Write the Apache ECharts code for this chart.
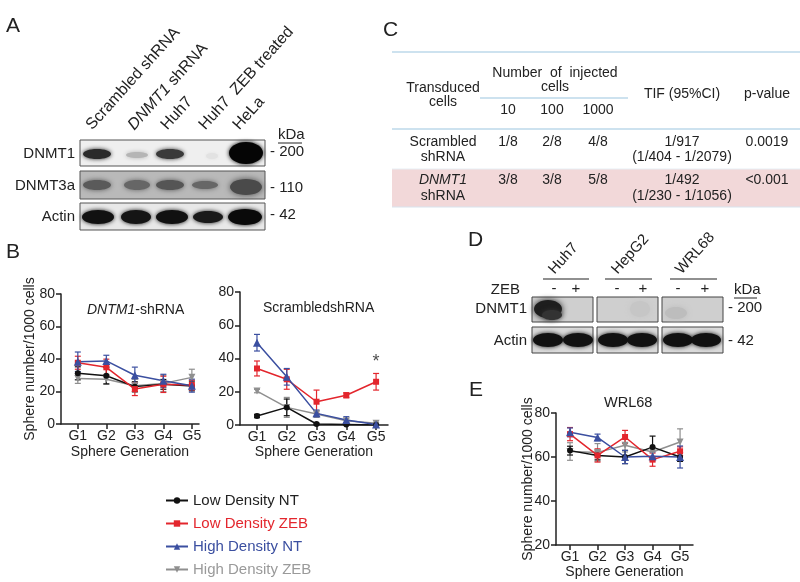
<!DOCTYPE html>
<html><head><meta charset="utf-8">
<script src="https://cdn.jsdelivr.net/npm/echarts@6/dist/echarts.min.js"></script>
<style>html,body{margin:0;padding:0;background:#fff}#c{width:800px;height:582px}</style>
</head><body><div id="c"></div>
<script>
// ---------- DATA ----------
const generations = ['G1','G2','G3','G4','G5'];
const seriesNames = ['Low Density NT','Low Density ZEB','High Density NT','High Density ZEB'];

// Panel B left: DNTM1-shRNA
const bL_lowNT   = [31.2, 29.7, 23.0, 24.4, 23.4];
const bL_lowNT_e = [4, 5, 3, 3, 3];
const bL_lowZEB  = [37.7, 34.9, 21.5, 24.4, 24.0];
const bL_lowZEB_e= [4, 5, 4, 5, 3];
const bL_hiNT    = [38.3, 38.8, 30.0, 26.6, 23.6];
const bL_hiNT_e  = [6, 3.5, 5, 4, 4];
const bL_hiZEB   = [28.0, 27.5, 23.5, 25.0, 28.7];
const bL_hiZEB_e = [3, 3, 4, 5, 5];

// Panel B right: ScrambledshRNA
const bR_lowNT   = [5.4, 10.6, 0.6, 0.3, 0.0];
const bR_lowNT_e = [1, 5, 0.5, 0.3, 0.2];
const bR_lowZEB  = [34.0, 27.5, 14.0, 17.9, 26.0];
const bR_lowZEB_e= [4.5, 6, 7, 1.5, 5];
const bR_hiNT    = [49.5, 29.0, 7.0, 3.0, 0.3];
const bR_hiNT_e  = [5, 5, 2, 2, 0.3];
const bR_hiZEB   = [20.4, 10.6, 6.6, 2.6, 1.0];
const bR_hiZEB_e = [1, 6, 2, 1, 0.5];

// Panel E: WRL68
const e_lowNT    = [62.9, 60.7, 60.0, 64.5, 60.0];
const e_lowNT_e  = [2, 2, 3, 5, 2];
const e_lowZEB   = [70.4, 60.7, 69.1, 58.8, 62.6];
const e_lowZEB_e = [3, 3, 3, 3, 2];
const e_hiNT     = [71.2, 68.9, 60.0, 60.3, 60.0];
const e_hiNT_e   = [2, 1.5, 3, 2, 5];
const e_hiZEB    = [62.5, 62.1, 65.3, 62.3, 66.8];
const e_hiZEB_e  = [4, 4, 3, 2, 6];

// Table C
const tableCols = ['10','100','1000'];
const tableRows = [
  {name:['Scrambled','shRNA'], counts:['1/8','2/8','4/8'], tif:['1/917','(1/404 - 1/2079)'], p:'0.0019'},
  {name:['{i|DNMT1}','shRNA'], counts:['3/8','3/8','5/8'], tif:['1/492','(1/230 - 1/1056)'], p:'<0.001'}
];
const laneLabelsA = ['Scrambled shRNA','{i|DNMT1} shRNA','Huh7','Huh7  ZEB treated','HeLa'];
const laneLabelsD = ['Huh7','HepG2','WRL68'];

// ---------- STYLE ----------
const FONT = '"Liberation Sans", Arial, Helvetica, sans-serif';
const colors = ['#111111','#e3262d','#3b4fa0','#8f8f8f'];
const legendColors = ['#222222','#e3262d','#3b4fa0','#9a9a9a'];
const symbols = ['circle','rect','triangle','path://M0,0 L10,0 L5,9 Z'];
const symSizes = [6,6,8,7];

const chart = echarts.init(document.getElementById('c'));

function errRender(color){
  return function(params, api){
    const x = api.value(0), lo = api.value(1), hi = api.value(2);
    const p1 = api.coord([x, hi]), p2 = api.coord([x, lo]);
    const w = 3;
    const st = {stroke: color, lineWidth: 1.2};
    return {type:'group', children:[
      {type:'line', shape:{x1:p1[0],y1:p1[1],x2:p2[0],y2:p2[1]}, style:st},
      {type:'line', shape:{x1:p1[0]-w,y1:p1[1],x2:p1[0]+w,y2:p1[1]}, style:st},
      {type:'line', shape:{x1:p2[0]-w,y1:p2[1],x2:p2[0]+w,y2:p2[1]}, style:st}
    ]};
  };
}

const panels = [
  {means:[bL_lowNT,bL_lowZEB,bL_hiNT,bL_hiZEB], errs:[bL_lowNT_e,bL_lowZEB_e,bL_hiNT_e,bL_hiZEB_e], ymin:0},
  {means:[bR_lowNT,bR_lowZEB,bR_hiNT,bR_hiZEB], errs:[bR_lowNT_e,bR_lowZEB_e,bR_hiNT_e,bR_hiZEB_e], ymin:0},
  {means:[e_lowNT,e_lowZEB,e_hiNT,e_hiZEB], errs:[e_lowNT_e,e_lowZEB_e,e_hiNT_e,e_hiZEB_e], ymin:20}
];

const series = [];
const drawOrder = [3,0,1,2];
panels.forEach((p, gi) => {
  drawOrder.forEach(si => {
    const m = p.means[si], e = p.errs[si];
    series.push({
      type:'custom', name:'err'+gi+'_'+si, xAxisIndex:gi, yAxisIndex:gi,
      renderItem: errRender(colors[si]), silent:true, z:2,
      data: m.map((v,i)=>[i+1, Math.max(p.ymin, v-e[i]), v+e[i]])
    });
    series.push({
      type:'line', name:seriesNames[si], xAxisIndex:gi, yAxisIndex:gi,
      data: m.map((v,i)=>[i+1, v]),
      symbol: symbols[si], symbolSize: symSizes[si], showSymbol:true,
      lineStyle:{color:colors[si], width:1.5}, itemStyle:{color:colors[si]},
      animation:false, z:3
    });
  });
});
// asterisk above G5 in scrambled panel
series.push({type:'scatter', xAxisIndex:1, yAxisIndex:1, data:[[5, 38]], symbolSize:0,
  label:{show:true, formatter:'*', fontSize:18, color:'#222', position:'inside', fontFamily:FONT}, silent:true});

const gridDefs = [
  {left:61, top:294, width:138, height:130, xmin:0.41, xmax:5.25, ymax:80, xGap:21, yGap:24},
  {left:240, top:292, width:148, height:133, xmin:0.43, xmax:5.4, ymax:80, xGap:20, yGap:0},
  {left:556, top:413, width:137, height:132, xmin:0.49, xmax:5.47, ymax:80, xGap:20, yGap:21}
];
const axisLineStyle = {color:'#222', width:1.5};
const xAxes = gridDefs.map((g,i)=>({
  type:'value', gridIndex:i, min:g.xmin, max:g.xmax,
  axisLine:{show:true, onZero:false, lineStyle:axisLineStyle},
  axisTick:{show:true, customValues:[1,2,3,4,5], length:5, lineStyle:axisLineStyle},
  axisLabel:{customValues:[1,2,3,4,5], formatter:v=>generations[Math.round(v)-1], fontSize:14, color:'#222', margin:5, fontFamily:FONT},
  splitLine:{show:false},
  name:'Sphere Generation', nameLocation:'middle', nameGap:g.xGap, nameMoveOverlap:false,
  nameTextStyle:{fontSize:14, color:'#222', fontFamily:FONT}
}));
const yAxes = gridDefs.map((g,i)=>({
  type:'value', gridIndex:i, min:panels[i].ymin, max:g.ymax, interval:20,
  axisLine:{show:true, lineStyle:axisLineStyle},
  axisTick:{show:true, length:5, lineStyle:axisLineStyle},
  axisLabel:{fontSize:14, color:'#222', margin:6, fontFamily:FONT},
  splitLine:{show:false},
  name: i===1 ? '' : 'Sphere number/1000 cells', nameLocation:'middle', nameGap:g.yGap, nameMoveOverlap:false,
  nameTextStyle:{fontSize:14, color:'#222', fontFamily:FONT}
}));

// ---------- GRAPHIC: blots, table, labels ----------
const G = [];
function txt(x,y,text,opt){
  opt = opt||{};
  G.push({type:'text', x:x, y:y, rotation:opt.rot||0, z:10,
    style:{text:text, fill:opt.color||'#222', font:(opt.style||'')+' '+(opt.size||14)+'px '+FONT,
      textAlign:opt.align||'left', textVerticalAlign:opt.valign||'middle',
      rich:{i:{fontStyle:'italic', fontSize:opt.size||14, fontFamily:FONT, fill:opt.color||'#222'}}}});
}
function line(x1,y1,x2,y2,color,w){
  G.push({type:'line', shape:{x1,y1,x2,y2}, style:{stroke:color||'#222', lineWidth:w||1}, z:5});
}
function rect(x,y,w,h,fill,stroke){
  G.push({type:'rect', shape:{x,y,width:w,height:h}, style:{fill:fill, stroke:stroke||null, lineWidth:1}, z:4});
}
function band(cx,cy,rx,ry,color,blur){
  G.push({type:'ellipse', shape:{cx,cy,rx,ry}, style:{fill:color, shadowBlur:blur||4, shadowColor:color}, z:5});
}

// Panel letters
txt(6,26,'A',{size:21});
txt(6,252,'B',{size:21});
txt(383,30,'C',{size:21});
txt(468,240,'D',{size:21});
txt(469,390,'E',{size:21});

// Panel A blots
const A_laneX = [97,139,172,210,244];
laneLabelsA.forEach((t,i)=>txt(A_laneX[i]-2,133,t,{size:16,rot:Math.PI*48/180,valign:'bottom'}));
rect(80,140,185,26,'#efefef');
band(97,154,14,5,'#2a2a2a',4); band(137,155,11,3,'#b5b5b5',4); band(170,154,14,5,'#3a3a3a',4);
band(212,156,6,3,'#e2e2e2',3); band(246,153,17,11,'#050505',4);
rect(80,140,185,26,null,'#555');
rect(80,171,185,28,'#b9b9b9');
band(97,185,14,5,'#5a5a5a',5); band(137,185,13,5,'#666',5); band(170,185,14,5,'#555',5);
band(205,185,13,4,'#666',5); band(246,187,16,8,'#4a4a4a',6);
rect(80,171,185,28,null,'#555');
rect(80,203,185,27,'#e8e8e8');
band(98,217,16,7,'#111',4); band(136,217,15,7,'#151515',4); band(172,217,16,7,'#111',4);
band(208,217,15,6,'#1a1a1a',4); band(245,217,17,8,'#0a0a0a',4);
rect(80,203,185,27,null,'#555');
txt(75,154,'DNMT1',{align:'right',size:15});
txt(75,186,'DNMT3a',{align:'right',size:15});
txt(75,217,'Actin',{align:'right',size:15});
txt(278,135,'kDa',{size:15}); line(278,143,302,143,'#222',1);
txt(270,152,'- 200',{size:15});
txt(270,188,'- 110',{size:15});
txt(270,215,'- 42',{size:15});

// Table C
const tx0 = 392, tx1 = 800;
rect(tx0,169,tx1-tx0,38,'#f2d8d9');
line(tx0,52,tx1,52,'#bcd9ea',1.5);
line(tx0,129,tx1,129,'#bcd9ea',1.5);
line(tx0,169,tx1,169,'#e6eef4',1);
line(tx0,207,tx1,207,'#d8e4ee',1);
line(480,98,628,98,'#bcd9ea',1.5);
const colX = [508,552,598], tifX = 682, pX = 767, nameX = 443;
txt(nameX,88,'Transduced',{align:'center'});
txt(nameX,102,'cells',{align:'center'});
txt(555,73,'Number  of  injected',{align:'center'});
txt(555,87,'cells',{align:'center'});
tableCols.forEach((c,i)=>txt(colX[i],110,c,{align:'center'}));
txt(tifX,94,'TIF (95%CI)',{align:'center'});
txt(pX,94,'p-value',{align:'center'});
tableRows.forEach((r,ri)=>{
  const y1 = ri===0?142:180, y2 = ri===0?157:196;
  txt(nameX,y1,r.name[0],{align:'center'});
  txt(nameX,y2,r.name[1],{align:'center'});
  r.counts.forEach((c,i)=>txt(colX[i],y1,c,{align:'center'}));
  txt(tifX,y1,r.tif[0],{align:'center'});
  txt(tifX,y2,r.tif[1],{align:'center'});
  txt(pX,y1,r.p,{align:'center'});
});

// Panel D
const D_labelX = [557,620,684];
laneLabelsD.forEach((t,i)=>txt(D_labelX[i],277,t,{size:15,rot:Math.PI*48/180,valign:'bottom'}));
line(543,279,589,279,'#222',1.2); line(605,279,652,279,'#222',1.2); line(670,279,717,279,'#222',1.2);
txt(520,290,'ZEB',{align:'right',size:15});
const pmX = [554,576,617,643,678,705];
['-','+','-','+','-','+'].forEach((s,i)=>txt(pmX[i],289,s,{align:'center',size:15}));
txt(734,290,'kDa',{size:15}); line(734,298,757,298,'#222',1);
txt(728,308,'- 200',{size:15});
txt(728,341,'- 42',{size:15});
txt(527,309,'DNMT1',{align:'right',size:15});
txt(527,341,'Actin',{align:'right',size:15});
const boxX = [[532,593],[597,658],[662,723]];
boxX.forEach(b=>rect(b[0],297,b[1]-b[0],25,'#cfcfcf'));
band(548,309,14,9,'#1e1e1e',6); band(552,315,10,5,'#333',5);
band(640,309,10,8,'#c6c6c6',6); band(676,313,11,6,'#bdbdbd',6);
boxX.forEach(b=>rect(b[0],297,b[1]-b[0],25,null,'#444'));
boxX.forEach(b=>rect(b[0],327,b[1]-b[0],26,'#dadada'));
[548,578,613,642,678,706].forEach(cx=>band(cx,340,15,7,'#111',4));
boxX.forEach(b=>rect(b[0],327,b[1]-b[0],26,null,'#444'));

const option = {
  animation:false,
  backgroundColor:'#ffffff',
  textStyle:{fontFamily:FONT},
  title:[
    {text:'{i|DNTM1}-shRNA', left:82, top:298, textStyle:{fontSize:14, fontWeight:'normal', color:'#222', fontFamily:FONT,
      rich:{i:{fontStyle:'italic', fontSize:14, color:'#222', fontFamily:FONT}}}},
    {text:'ScrambledshRNA', left:258, top:296, textStyle:{fontSize:14, fontWeight:'normal', color:'#222', fontFamily:FONT}},
    {text:'WRL68', left:599, top:390, textStyle:{fontSize:14.5, fontWeight:'normal', color:'#222', fontFamily:FONT}}
  ],
  legend:{orient:'vertical', left:160, top:488, itemGap:8, itemWidth:22, itemHeight:8, selectedMode:false,
    textStyle:{fontSize:15, fontFamily:FONT},
    data: seriesNames.map((n,i)=>({name:n, textStyle:{color:legendColors[i]}}))},
  grid: gridDefs.map(g=>({left:g.left, top:g.top, width:g.width, height:g.height})),
  xAxis: xAxes,
  yAxis: yAxes,
  series: series,
  graphic: G
};
chart.setOption(option);
</script>
</body></html>
